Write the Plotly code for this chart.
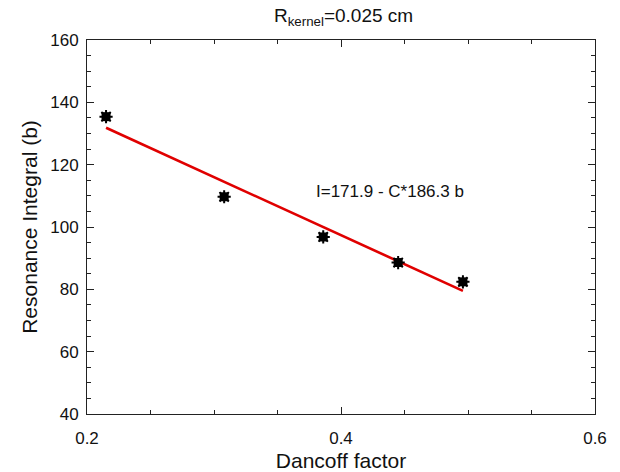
import plotly.graph_objects as go

# Data
dancoff = [0.215, 0.308, 0.386, 0.445, 0.496]
res_integral = [135.4, 109.7, 96.8, 88.6, 82.4]

# Fit: I = A - C*B
fit_a = 171.9
fit_b = 186.3
fit_x = [min(dancoff), max(dancoff)]
fit_y = [fit_a - fit_b * c for c in fit_x]

x_ticks = [0.2, 0.4, 0.6]
y_ticks = [40, 60, 80, 100, 120, 140, 160]

font_family = "Liberation Sans, Arial, Helvetica, sans-serif"
ink = "#111111"

fig = go.Figure()
fig.add_trace(go.Scatter(
    x=fit_x, y=fit_y, mode="lines",
    line=dict(color="#e00000", width=2.6),
    showlegend=False, hoverinfo="skip",
))
# data markers: square core with asterisk spikes
fig.add_trace(go.Scatter(
    x=dancoff, y=res_integral, mode="markers",
    marker=dict(symbol="square", size=9, color="black", line=dict(width=0)),
    showlegend=False, hoverinfo="skip",
))
fig.add_trace(go.Scatter(
    x=dancoff, y=res_integral, mode="markers",
    marker=dict(symbol="asterisk-open", size=11, color="black",
                line=dict(color="black", width=2)),
    showlegend=False,
))

axis_common = dict(
    showgrid=False, zeroline=False, showline=True, linecolor="#222222",
    linewidth=1, mirror="allticks", ticks="inside", tickcolor="#222222",
    ticklen=7, tickwidth=1, automargin=False,
    tickfont=dict(family=font_family, size=17, color=ink),
)

fig.update_xaxes(
    range=[0.2, 0.6], tickvals=x_ticks, ticktext=[f"{v:.1f}" for v in x_ticks],
    minor=dict(dtick=0.05, ticks="inside", ticklen=4, tickcolor="#222222", tickwidth=1),
    ticklabelstandoff=9,
    title=dict(text="Dancoff factor", font=dict(family=font_family, size=21, color=ink),
               standoff=5),
    **axis_common,
)
fig.update_yaxes(
    range=[40, 160], tickvals=y_ticks, ticktext=[str(v) for v in y_ticks],
    minor=dict(dtick=5, ticks="inside", ticklen=4, tickcolor="#222222", tickwidth=1),
    ticklabelstandoff=4,
    title=dict(text="Resonance Integral (b)", font=dict(family=font_family, size=21, color=ink),
               standoff=6),
    **axis_common,
)

fig.add_annotation(
    x=0.4386, y=111.5, xref="x", yref="y",
    text=f"I={fit_a} - C*{fit_b} b", showarrow=False,
    font=dict(family=font_family, size=17, color=ink),
)

fig.update_layout(
    width=620, height=472,
    margin=dict(l=87, r=25, t=40, b=58),
    paper_bgcolor="white", plot_bgcolor="white",
    title=dict(text="R<sub>kernel</sub>=0.025 cm", x=0.505, xref="paper",
               y=1 - 15 / 472, yanchor="middle",
               font=dict(family=font_family, size=19, color=ink)),
)

fig.write_html("out.html")
